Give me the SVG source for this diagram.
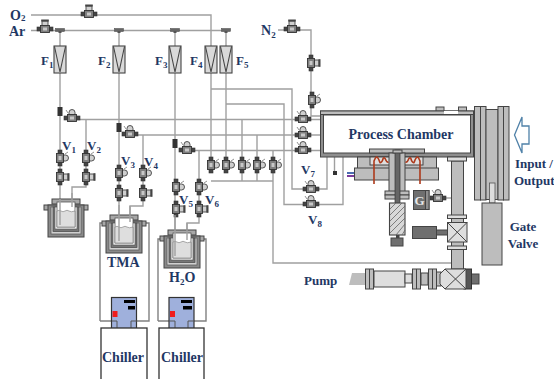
<svg xmlns="http://www.w3.org/2000/svg" width="554" height="379" viewBox="0 0 554 379">
<style>
.t{font-family:"Liberation Serif","Times New Roman",serif;font-weight:700;fill:#1f3864}
.s{font-size:9px}
.p{fill:none;stroke:#a0a0a0;stroke-width:1.4}
.d{stroke:#444;stroke-width:1}
.g1{fill:#bdbdbd}.g2{fill:#8f8f8f}.g3{fill:#6f6f6f}.g4{fill:#dedede}.w{fill:#fff}
</style>
<defs>
<g id="vv">
<rect x="-2" y="-8" width="4" height="3.500" fill="#444" stroke="#333" stroke-width=".6"/>
<rect x="-2" y="4.500" width="4" height="3.500" fill="#444" stroke="#333" stroke-width=".6"/>
<path d="M3,-3H5.500A3,3 0 0 1 5.500,3H3Z" fill="#cfcfcf" stroke="#444" stroke-width=".9"/>
<path d="M5,-4L8,-6" stroke="#666" stroke-width=".7"/>
<rect x="-3.500" y="-4.500" width="7" height="9" fill="#7f7f7f" stroke="#333" stroke-width=".9"/>
<rect x="-1.500" y="-2" width="3" height="4" fill="#c8c8c8"/>
</g>
<g id="vb">
<rect x="-2" y="-8" width="4" height="3.500" fill="#444" stroke="#333" stroke-width=".6"/>
<rect x="-2" y="4.500" width="4" height="3.500" fill="#444" stroke="#333" stroke-width=".6"/>
<rect x="3" y="-3" width="5" height="6" fill="#cfcfcf" stroke="#444" stroke-width=".9"/>
<rect x="7.500" y="-3.800" width="2" height="7.600" fill="#444"/>
<rect x="-3.500" y="-4.500" width="7" height="9" fill="#7f7f7f" stroke="#333" stroke-width=".9"/>
<rect x="-1.500" y="-2" width="3" height="4" fill="#c8c8c8"/>
</g>
<g id="bub">
<rect x="8" y="0" width="28" height="5" fill="#a8a8a8" stroke="#444"/>
<rect x="0" y="6" width="44" height="5" fill="#a8a8a8" stroke="#444"/>
<rect x="4" y="6" width="36" height="32" fill="#8a8a8a" stroke="#444"/>
<rect x="7" y="8" width="30" height="27" fill="#d0d0d0" stroke="#555" stroke-width=".7"/>
<rect x="9" y="8" width="26" height="24.500" fill="#777" stroke="#444" stroke-width=".7"/>
<rect x="11" y="8" width="22" height="22" fill="#fff" stroke="#555" stroke-width=".7"/>
<rect x="13" y="3" width="18" height="25" fill="#fff" stroke="#555" stroke-width=".8"/>
<path d="M13,12q2-1.500 4,0t4,0t4,0t6,0V28H13Z" fill="#dedede" stroke="#777" stroke-width=".6"/>
</g>
<g id="fm">
<rect x="-6" y="0" width="12" height="27" fill="#d9d9d9" stroke="#444" stroke-width="1.100"/>
<path d="M-5.500,0.500L0,26L5.500,0.500" fill="none" stroke="#444" stroke-width="1.100"/>
</g>
<g id="tee"><rect x="-4.500" y="-1.500" width="9" height="3" fill="#666" stroke="#444" stroke-width=".5"/><rect x="-1.500" y="1" width="3" height="2" fill="#555"/></g>
</defs>

<g id="connectors" class="p">
<path d="M31,15H211V165"/>
<path d="M31,30.500H226V165"/>
<path d="M60,30V210M119,30V222M175,30V245"/>
<path d="M86,119.500V187H72V207"/>
<path d="M143,135V206H130V222"/>
<path d="M199,150V223H187V240"/>
<path d="M72,119.500H320"/>
<path d="M130,135H320"/>
<path d="M187,150.500H320"/>
<path d="M211,89H292V189H327V157"/>
<path d="M226,104H284V204.500H343V157"/>
<path d="M242,119.500V181M257,135V181M273,150.500V263H451"/>
<path d="M211,181H273"/>
<path d="M278,30H311V116H320"/>
<path d="M334.500,157V172"/>
<path d="M100,321V223H103M146,223H149V321H137M111,321H100" stroke="#808080"/>
<path d="M158,321V239H161M203,239H206V321H194M169,321H158" stroke="#808080"/>
<path d="M445,198H451"/>
</g>

<g id="mfc-F1"><use href="#tee" x="60" y="30"/><use href="#fm" x="60" y="46"/></g>
<g id="mfc-F2"><use href="#tee" x="119" y="30"/><use href="#fm" x="119" y="46"/></g>
<g id="mfc-F3"><use href="#tee" x="175" y="30"/><use href="#fm" x="175" y="46"/></g>
<g id="mfc-F4"><use href="#fm" x="211" y="46"/></g>
<g id="mfc-F5"><use href="#tee" x="226" y="30"/><use href="#fm" x="226" y="46"/></g>

<g id="valves">
<use href="#vb" transform="translate(89,14) rotate(-90)"/>
<use href="#vb" transform="translate(45,29) rotate(-90)"/>
<use href="#vb" transform="translate(292,29) rotate(-90)"/>
<use href="#vb" x="311" y="63"/>
<use href="#vv" x="312" y="100"/>
<rect x="57.500" y="107" width="5" height="9" fill="#333"/>
<rect x="116.500" y="123" width="5" height="9" fill="#333"/>
<rect x="172.500" y="139" width="5" height="9" fill="#333"/>
<use href="#vv" transform="translate(72,118) rotate(-90)"/>
<use href="#vv" transform="translate(130,134) rotate(-90)"/>
<use href="#vv" transform="translate(187,150) rotate(-90)"/>
<use href="#vv" x="60" y="158"/><use href="#vb" x="60" y="177"/>
<use href="#vv" x="86" y="158"/><use href="#vb" x="86" y="177"/>
<use href="#vv" x="119" y="173"/><use href="#vb" x="119" y="193"/>
<use href="#vv" x="143" y="173"/><use href="#vb" x="143" y="193"/>
<use href="#vv" x="176" y="187"/><use href="#vb" x="176" y="209"/>
<use href="#vv" x="199" y="187"/><use href="#vb" x="199" y="209"/>
<use href="#vv" x="211" y="165"/><use href="#vv" x="226" y="165"/><use href="#vv" x="242" y="165"/><use href="#vv" x="257" y="165"/><use href="#vv" x="273" y="165"/>
<use href="#vv" transform="translate(303,119) rotate(-90)"/>
<use href="#vv" transform="translate(303,135) rotate(-90)"/>
<use href="#vv" transform="translate(303,150) rotate(-90)"/>
<use href="#vv" transform="translate(311,189) rotate(-90)"/>
<use href="#vv" transform="translate(311,204) rotate(-90)"/>
<use href="#vv" transform="translate(438,198) rotate(-90)"/>
</g>

<g id="bubbler-1"><use href="#bub" x="44" y="199"/><path d="M60,199V225M72,193V207" class="p"/></g>
<g id="bubbler-TMA"><use href="#bub" x="102" y="215"/><path d="M119,205V241M130,206V222" class="p"/></g>
<g id="bubbler-H2O"><use href="#bub" x="160" y="230"/><path d="M175,215V256M187,223V240" class="p"/></g>

<g id="controller-1">
<rect x="111.500" y="297.500" width="25" height="31" fill="#9fb0dc" stroke="#333" stroke-width="1.200"/>
<rect x="124" y="300" width="11" height="3" fill="#000"/><rect x="128" y="306" width="7" height="3.500" fill="#000"/><rect x="112.500" y="311" width="5" height="6" fill="#f01c1c"/>
<path d="M112,321H117V328M137,321H131V328" fill="none" stroke="#555"/>
</g>
<g id="controller-2">
<rect x="169" y="297.500" width="25" height="31" fill="#9fb0dc" stroke="#333" stroke-width="1.200"/>
<rect x="181" y="300" width="11" height="3" fill="#000"/><rect x="183" y="306" width="9" height="3.500" fill="#000"/><rect x="170" y="311" width="5" height="6" fill="#f01c1c"/>
<path d="M169,321H175V328M194,321H188V328" fill="none" stroke="#555"/>
</g>
<g id="chiller-1"><rect x="101" y="328" width="46" height="54" fill="#fff" stroke="#333" stroke-width="1.300"/><text class="t" x="123" y="362" font-size="14" text-anchor="middle">Chiller</text></g>
<g id="chiller-2"><rect x="159" y="328" width="45" height="54" fill="#fff" stroke="#333" stroke-width="1.300"/><text class="t" x="182" y="362" font-size="14" text-anchor="middle">Chiller</text></g>

<g id="process-chamber">
<rect x="436" y="107" width="8" height="5" class="g1 d"/><rect x="458.500" y="107" width="8" height="5" class="g1 d"/>
<rect x="320.500" y="111" width="153" height="46" class="g2 d"/>
<rect x="320.500" y="111" width="153" height="3.500" class="g1 d"/>
<rect x="444" y="111" width="14" height="3" class="w"/>
<rect x="323.500" y="115" width="147" height="38" fill="#fff" stroke="#444"/>
<text class="t" x="401" y="139" font-size="14" text-anchor="middle">Process Chamber</text>
</g>
<g id="stage">
<rect x="357.500" y="157" width="79" height="12" class="g1 d"/>
<rect x="370" y="157" width="53" height="8" class="g4 d"/>
<rect x="354.500" y="168" width="84" height="12" class="g1 d"/>
<rect x="369.500" y="149" width="55" height="4" class="g1 d"/>
<rect x="389" y="153" width="16" height="39" class="g1 d"/>
<rect x="385" y="191" width="24" height="4" class="g1 d"/><rect x="385" y="195" width="24" height="4" class="g1 d"/>
<rect x="395" y="150" width="5" height="54" fill="#666" stroke="#333" stroke-width=".7"/>
<rect x="393" y="150" width="9" height="3" class="g1 d"/>
<path d="M374,184V161c2-5 3-5 4.500-2s1,5 3,3s1-5 3-4s1,5 4,4M420,184V161c-2-5-3-5-4.500-2s-1,5-3,3s-1-5-3-4s-1,5-4,4" fill="none" stroke="#ad3a1c" stroke-width="1.600"/>
<rect x="347" y="172" width="7" height="2" fill="#4b6cb0"/><rect x="347" y="175" width="7" height="2" fill="#7a3a9a"/>
<rect x="333" y="171" width="4" height="4" fill="#333"/>
<rect x="389.500" y="203" width="15.500" height="32" fill="#d8d8d8" stroke="#444" stroke-width="1.100"/>
<path d="M390,209L396,203M390,215L402,203M390,221L405,206M390,227L405,212M390,233L405,218M396,235L405,224M402,235L405,230" stroke="#666" stroke-width=".8"/>
<rect x="396" y="235" width="3.500" height="3" fill="#444"/>
<rect x="391" y="238" width="12" height="8" class="g3 d"/>
</g>
<g id="gauge">
<rect x="413.500" y="190.500" width="15.500" height="19" class="g3 d"/>
<rect x="425.500" y="190.500" width="3.500" height="19" class="g2 d"/>
<text x="419.500" y="205" font-family="Liberation Serif" font-weight="700" font-size="13" fill="#e8e8e8" text-anchor="middle">G</text>
</g>

<g id="duct">
<rect x="451.500" y="161" width="12" height="108" class="g1 d"/>
<rect x="447.500" y="157" width="19" height="4" class="g4 d"/>
<rect x="447.500" y="215" width="19" height="3.500" class="g4 d"/>
<rect x="447.500" y="246" width="19" height="3.500" class="g4 d"/>
<rect x="412.500" y="226.500" width="24" height="12" class="g3 d"/>
<rect x="436.500" y="230" width="11" height="5" class="g3 d"/>
<g id="iso-valve"><rect x="447.500" y="222.500" width="19.500" height="19.500" class="g4 d"/><path d="M447.500,222.500L467,242M467,222.500L447.500,242" stroke="#444"/></g>
</g>
<g id="foreline">
<path d="M352,273H365V285H349Z" class="g1"/>
<rect x="374" y="271" width="31" height="16" class="g4 d"/>
<rect x="405" y="274" width="7" height="9" class="g4 d"/>
<rect x="421" y="273" width="7" height="12" class="g1 d"/>
<rect x="436" y="272" width="5" height="14" class="g1 d"/>
<rect x="365.500" y="269" width="8" height="20" class="g1 d"/><path d="M369.500,269V289" stroke="#444"/>
<rect x="412.500" y="269" width="8" height="20" class="g1 d"/><path d="M416.500,269V289" stroke="#444"/>
<rect x="428.500" y="269" width="8" height="20" class="g1 d"/><path d="M432.500,269V289" stroke="#444"/>
<rect x="470" y="274" width="9" height="10" class="g3 d"/>
<rect x="464" y="269" width="7.500" height="20" fill="#555" stroke="#333"/>
<path d="M445,269H466V289H445L440,284V274Z" class="g4 d"/>
<path d="M445,269L466,289M466,269L445,289" stroke="#444"/>
</g>
<g id="gate-valve">
<rect x="474.500" y="106.500" width="6" height="93.500" class="g1 d"/><rect x="480.500" y="106.500" width="5.500" height="93.500" class="g1 d"/>
<rect x="486" y="109.500" width="12" height="90" class="g1 d"/>
<rect x="498" y="106.500" width="5.500" height="93.500" class="g1 d"/><rect x="503.500" y="106.500" width="5.500" height="93.500" class="g1 d"/>
<rect x="489.500" y="183" width="5.500" height="20" fill="#ddd" stroke="#555" stroke-width=".8"/>
<rect x="482" y="203" width="20" height="62" class="g1 d"/>
</g>
<path id="io-arrow" d="M514.500,135L522,117V126H529V144H522V153Z" fill="#fff" stroke="#4f81a8" stroke-width="1.300"/>

<g id="labels">
<text class="t" x="10" y="19.500" font-size="14">O<tspan class="s" dy="1.500">2</tspan></text>
<text class="t" x="9" y="36" font-size="14">Ar</text>
<text class="t" x="261" y="35" font-size="14">N<tspan class="s" dy="3">2</tspan></text>
<text class="t" x="41" y="65" font-size="13">F<tspan class="s" dy="3">1</tspan></text>
<text class="t" x="98" y="65" font-size="13">F<tspan class="s" dy="3">2</tspan></text>
<text class="t" x="155" y="65" font-size="13">F<tspan class="s" dy="3">3</tspan></text>
<text class="t" x="190" y="65" font-size="13">F<tspan class="s" dy="3">4</tspan></text>
<text class="t" x="236" y="65" font-size="13">F<tspan class="s" dy="3">5</tspan></text>
<text class="t" x="62" y="150" font-size="13">V<tspan class="s" dy="3">1</tspan></text>
<text class="t" x="87" y="150" font-size="13">V<tspan class="s" dy="3">2</tspan></text>
<text class="t" x="121" y="165" font-size="13">V<tspan class="s" dy="3">3</tspan></text>
<text class="t" x="144" y="166" font-size="13">V<tspan class="s" dy="3">4</tspan></text>
<text class="t" x="179" y="204" font-size="13">V<tspan class="s" dy="3">5</tspan></text>
<text class="t" x="205" y="204" font-size="13">V<tspan class="s" dy="3">6</tspan></text>
<text class="t" x="301" y="174" font-size="13">V<tspan class="s" dy="3">7</tspan></text>
<text class="t" x="308" y="224" font-size="13">V<tspan class="s" dy="3">8</tspan></text>
<text class="t" x="107" y="267" font-size="14">TMA</text>
<text class="t" x="169" y="282" font-size="14">H<tspan class="s" dy="3">2</tspan><tspan dy="-3">O</tspan></text>
<text class="t" x="304" y="285" font-size="13">Pump</text>
<text class="t" x="523" y="231" font-size="13" text-anchor="middle">Gate</text>
<text class="t" x="523" y="248" font-size="13" text-anchor="middle">Valve</text>
<text class="t" x="515" y="168" font-size="13">Input /</text>
<text class="t" x="514" y="185" font-size="13">Output</text>
</g>
</svg>
